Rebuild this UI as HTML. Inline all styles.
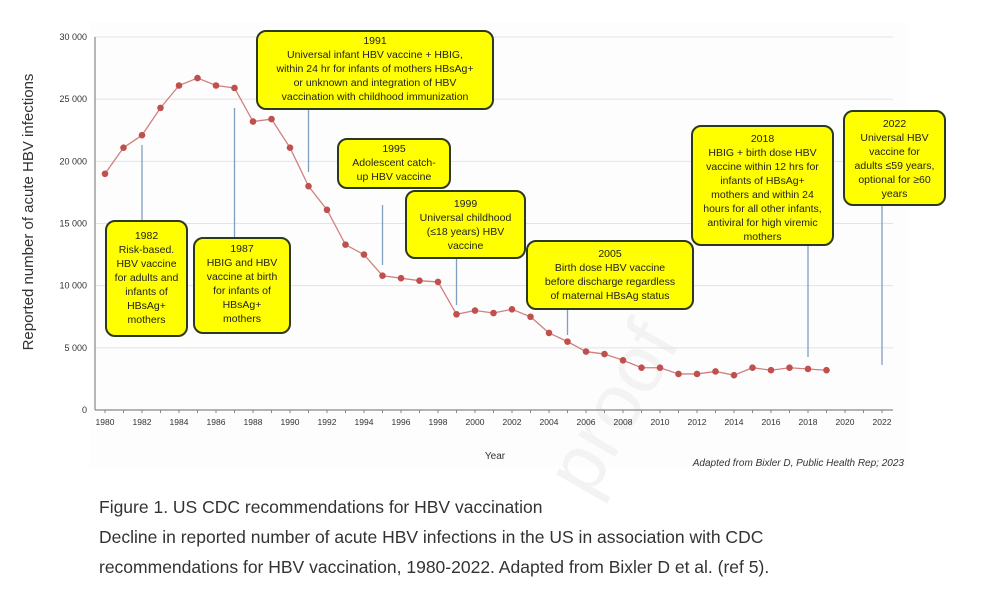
<!DOCTYPE html>
<html><head><meta charset="utf-8">
<style>
body{margin:0;background:#fff;width:1000px;height:602px;overflow:hidden;font-family:"Liberation Sans",sans-serif;}
.box{position:absolute;background:#ffff00;border:2px solid #2b3a1e;border-radius:10px;text-align:center;font-size:10.5px;line-height:14px;color:#222;box-sizing:border-box;padding-top:2px;}
.cap{position:absolute;left:99px;font-size:17.5px;color:#333;}
</style></head><body>
<svg id="chart" width="1000" height="602" style="position:absolute;left:0;top:0">
<rect x="90" y="22" width="818" height="445" fill="#fdfdfd"/>
<text x="590" y="500" font-size="80" fill="#f3f3f3" transform="rotate(-60 590 500)" font-family="Liberation Sans">proof</text>
<g id="grid"></g><g id="axes"></g><g id="lines"></g><g id="series"></g>
<text x="33" y="212" font-size="15" fill="#333" text-anchor="middle" transform="rotate(-90 33 212)">Reported number of acute HBV infections</text>
<text x="495" y="459" font-size="10" fill="#333" text-anchor="middle">Year</text>
<text x="904" y="466" font-size="10" fill="#333" font-style="italic" text-anchor="end">Adapted from Bixler D, Public Health Rep; 2023</text>
</svg>
<div class="box" style="left:256px;top:30px;width:238px;height:80px;">1991<br>Universal infant HBV vaccine + HBIG,<br>within 24 hr for infants of mothers HBsAg+<br>or unknown and integration of HBV<br>vaccination with childhood immunization</div>
<div class="box" style="left:105px;top:220px;width:83px;height:117px;padding-top:7px;">1982<br>Risk-based.<br>HBV vaccine<br>for adults and<br>infants of<br>HBsAg+<br>mothers</div>
<div class="box" style="left:193px;top:237px;width:98px;height:97px;padding-top:3px;">1987<br>HBIG and HBV<br>vaccine at birth<br>for infants of<br>HBsAg+<br>mothers</div>
<div class="box" style="left:337px;top:138px;width:114px;height:51px;">1995<br>Adolescent catch-<br>up HBV vaccine</div>
<div class="box" style="left:405px;top:190px;width:121px;height:69px;padding-top:5px;">1999<br>Universal childhood<br>(≤18 years) HBV<br>vaccine</div>
<div class="box" style="left:526px;top:240px;width:168px;height:70px;padding-top:5px;">2005<br>Birth dose HBV vaccine<br>before discharge regardless<br>of maternal HBsAg status</div>
<div class="box" style="left:691px;top:125px;width:143px;height:121px;padding-top:5px;">2018<br>HBIG + birth dose HBV<br>vaccine within 12 hrs for<br>infants of HBsAg+<br>mothers and within 24<br>hours for all other infants,<br>antiviral for high viremic<br>mothers</div>
<div class="box" style="left:843px;top:110px;width:103px;height:96px;padding-top:5px;">2022<br>Universal HBV<br>vaccine for<br>adults ≤59 years,<br>optional for ≥60<br>years</div>
<div class="cap" style="top:497px;">Figure 1. US CDC recommendations for HBV vaccination</div>
<div class="cap" style="top:527px;">Decline in reported number of acute HBV infections in the US in association with CDC</div>
<div class="cap" style="top:557px;">recommendations for HBV vaccination, 1980-2022. Adapted from Bixler D et al. (ref 5).</div>
<script>
const years=[1980,1981,1982,1983,1984,1985,1986,1987,1988,1989,1990,1991,1992,1993,1994,1995,1996,1997,1998,1999,2000,2001,2002,2003,2004,2005,2006,2007,2008,2009,2010,2011,2012,2013,2014,2015,2016,2017,2018,2019];
const cases=[19000,21100,22100,24300,26100,26700,26100,25900,23200,23400,21100,18000,16100,13300,12500,10800,10600,10400,10300,7700,8000,7800,8100,7500,6200,5500,4700,4500,4000,3400,3400,2900,2900,3100,2800,3400,3200,3400,3300,3200];
const yTicks=[0,5000,10000,15000,20000,25000,30000];
const yTickLabels=["0","5 000","10 000","15 000","20 000","25 000","30 000"];
const xTickYears=[1980,1982,1984,1986,1988,1990,1992,1994,1996,1998,2000,2002,2004,2006,2008,2010,2012,2014,2016,2018,2020,2022];
const markerYears=[1982,1987,1991,1995,1999,2005,2018,2022];
const markerTop=[145,108,110,205,258,310,245,205];
const markerBottom=[220,237,172,265,305,335,357,365];
const X=y=>105+(y-1980)*18.5;
const Y=v=>410-v/30000*373;
const NS="http://www.w3.org/2000/svg";
function mk(tag,parent,attrs){const e=document.createElementNS(NS,tag);for(const k in attrs)e.setAttribute(k,attrs[k]);document.getElementById(parent).appendChild(e);return e;}
yTicks.forEach((v,i)=>{
 if(v>0){const g=mk('line','grid',{x1:95,x2:893,y1:Y(v),y2:Y(v),stroke:'#e3e3e3','stroke-width':1});
 
 }
 const t=mk('text','axes',{x:87,y:Y(v)+3,'font-size':9,'text-anchor':'end',fill:'#333'});t.textContent=yTickLabels[i];
 
 
});
const ya=mk('line','axes',{x1:95,x2:95,y1:Y(30000),y2:410,stroke:'#888','stroke-width':1.2});


const xa=mk('line','axes',{x1:95,x2:893,y1:410,y2:410,stroke:'#888','stroke-width':1.2});


for(let y=1980;y<=2022;y++){mk('line','axes',{x1:X(y),x2:X(y),y1:410,y2:413,stroke:'#888'});}
xTickYears.forEach(y=>{const t=mk('text','axes',{x:X(y),y:425,'font-size':8.5,'text-anchor':'middle',fill:'#333'});t.textContent=y;
 
 });
markerYears.forEach((y,i)=>{const l=mk('line','lines',{x1:X(y),x2:X(y),y1:markerTop[i],y2:markerBottom[i],stroke:'#7f9fbf','stroke-width':1.3});
 
 });
const p=mk('polyline','series',{points:years.map((y,i)=>X(y)+','+Y(cases[i])).join(' '),fill:'none',stroke:'#d08080','stroke-width':1.3});


years.forEach((y,i)=>{const c=mk('circle','series',{cx:X(y),cy:Y(cases[i]),r:3.3,fill:'#c0504d'});
 
 });
</script>
</body></html>
